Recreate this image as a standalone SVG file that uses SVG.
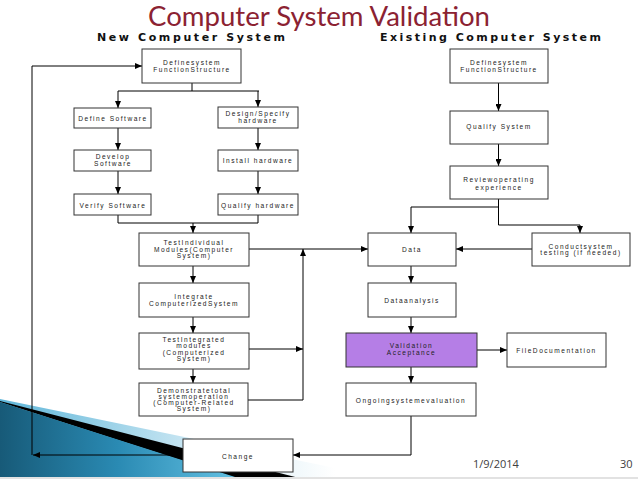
<svg xmlns="http://www.w3.org/2000/svg" width="638" height="479" viewBox="0 0 638 479">
<style>
.box{fill:#fff;stroke:#333;stroke-width:1}
.t{font-family:"Liberation Sans",Arial,sans-serif;font-size:6.6px;fill:#222;text-anchor:middle;letter-spacing:1.5px}
.ln{fill:none;stroke:#000;stroke-width:1}
.sub{font-family:"DejaVu Sans","Liberation Sans",sans-serif;font-size:11px;font-weight:bold;fill:#111}
.foot{font-family:"Open Sans","Liberation Sans",sans-serif;font-size:11px;fill:#404040}
</style>
<defs>
<marker id="ah" markerWidth="7" markerHeight="6" refX="7" refY="3" orient="auto" markerUnits="userSpaceOnUse"><path d="M0,0 L7,3 L0,6 z" fill="#000"/></marker>
<linearGradient id="dark" x1="0" y1="0" x2="1" y2="0"><stop offset="0" stop-color="#175a78"/><stop offset="0.5" stop-color="#2a8ab3"/><stop offset="1" stop-color="#62c0e2"/></linearGradient>
<linearGradient id="light" x1="0" y1="0" x2="1" y2="0"><stop offset="0" stop-color="#5fb6d9"/><stop offset="0.6" stop-color="#cfe9f4"/><stop offset="1" stop-color="#ffffff"/></linearGradient>
</defs>
<rect width="638" height="479" fill="#fff"/>
<g id="decor">
<polygon points="0,399 335,468 335,477 0,477" fill="url(#light)"/>
<polygon points="0,401 303,479 239,479 0,402" fill="#000"/>
<polygon points="0,402 235,477 0,477" fill="url(#dark)"/>
<rect x="0" y="477" width="638" height="2" fill="#e2e2e2"/>
</g>
<text x="319" y="26" font-family="Lato,'Open Sans',sans-serif" font-size="27" fill="#8b2232" text-anchor="middle" textLength="342" lengthAdjust="spacingAndGlyphs">Computer System Validation</text>
<text class="sub" x="97" y="41" textLength="188" lengthAdjust="spacing">New Computer System</text>
<text class="sub" x="380" y="41" textLength="221" lengthAdjust="spacing">Existing Computer System</text>
<g id="connectors">
<path class="ln" d="M192,83 V91 M118,91 H259"/>
<path class="ln" d="M118,91 V108" marker-end="url(#ah)"/>
<path class="ln" d="M258,91 V107" marker-end="url(#ah)"/>
<path class="ln" d="M118,128 V150" marker-end="url(#ah)"/>
<path class="ln" d="M258,128 V150" marker-end="url(#ah)"/>
<path class="ln" d="M118,171 V194" marker-end="url(#ah)"/>
<path class="ln" d="M258,171 V194" marker-end="url(#ah)"/>
<path class="ln" d="M118,215 V223 H258 V215"/>
<path class="ln" d="M193,223 V233" marker-end="url(#ah)"/>
<path class="ln" d="M193,266 V283" marker-end="url(#ah)"/>
<path class="ln" d="M193,317 V333" marker-end="url(#ah)"/>
<path class="ln" d="M193,369 V383" marker-end="url(#ah)"/>
<path class="ln" d="M183,455 H33" marker-end="url(#ah)"/>
<path class="ln" d="M32,455 V66 H142" marker-end="url(#ah)"/>
<path class="ln" d="M249,249 H368" marker-end="url(#ah)"/>
<path class="ln" d="M249,349 H303" marker-end="url(#ah)"/>
<path class="ln" d="M248,400 H303 V249" marker-end="url(#ah)"/>
<path class="ln" d="M498.5,83 V111" marker-end="url(#ah)"/>
<path class="ln" d="M498.5,144 V166" marker-end="url(#ah)"/>
<path class="ln" d="M498.5,199 V207 H411 V233" marker-end="url(#ah)"/>
<path class="ln" d="M498.5,207 V225 H580 V233" marker-end="url(#ah)"/>
<path class="ln" d="M532,249 H456" marker-end="url(#ah)"/>
<path class="ln" d="M411,266 V283" marker-end="url(#ah)"/>
<path class="ln" d="M411,317 V333" marker-end="url(#ah)"/>
<path class="ln" d="M411,367 V383" marker-end="url(#ah)"/>
<path class="ln" d="M477,350 H507" marker-end="url(#ah)"/>
<path class="ln" d="M411,416 V455 H293" marker-end="url(#ah)"/>
</g>
<g id="n-define-new"><rect class="box" x="142" y="49" width="99" height="34"/><text class="t" x="192" y="64.5">Definesystem</text><text class="t" x="192" y="72">FunctionStructure</text></g>
<g id="n-define-sw"><rect class="box" x="74" y="108" width="77" height="20"/><text class="t" x="113" y="120.5">Define Software</text></g>
<g id="n-design-hw"><rect class="box" x="218" y="107" width="80" height="21"/><text class="t" x="258" y="116">Design/Specify</text><text class="t" x="258" y="123">hardware</text></g>
<g id="n-develop-sw"><rect class="box" x="74" y="150" width="77" height="21"/><text class="t" x="113" y="159">Develop</text><text class="t" x="113" y="166">Software</text></g>
<g id="n-install-hw"><rect class="box" x="218" y="150" width="80" height="21"/><text class="t" x="258" y="163">Install hardware</text></g>
<g id="n-verify-sw"><rect class="box" x="74" y="194" width="77" height="21"/><text class="t" x="113" y="207.5">Verify Software</text></g>
<g id="n-qualify-hw"><rect class="box" x="218" y="194" width="80" height="21"/><text class="t" x="258" y="207.5">Qualify hardware</text></g>
<g id="n-test-ind"><rect class="box" x="139" y="233" width="110" height="33"/><text class="t" x="194" y="245">TestIndividual</text><text class="t" x="194" y="251.5">Modules(Computer</text><text class="t" x="194" y="258">System)</text></g>
<g id="n-integrate"><rect class="box" x="139" y="283" width="110" height="34"/><text class="t" x="194" y="299">Integrate</text><text class="t" x="194" y="306">ComputerizedSystem</text></g>
<g id="n-test-int"><rect class="box" x="139" y="333" width="110" height="36"/><text class="t" x="194" y="341.5">TestIntegrated</text><text class="t" x="194" y="348">modules</text><text class="t" x="194" y="354.5">(Computerized</text><text class="t" x="194" y="361">System)</text></g>
<g id="n-demonstrate"><rect class="box" x="139" y="383" width="109" height="33"/><text class="t" x="194" y="392.5">Demonstratetotal</text><text class="t" x="194" y="398.5">systemoperation</text><text class="t" x="194" y="404.5">(Computer-Related</text><text class="t" x="194" y="410.5">System)</text></g>
<g id="n-change"><rect class="box" x="183" y="439" width="110" height="33"/><text class="t" x="238" y="458.5">Change</text></g>
<g id="n-define-ex"><rect class="box" x="450" y="49" width="98" height="34"/><text class="t" x="499" y="64.5">Definesystem</text><text class="t" x="499" y="72">FunctionStructure</text></g>
<g id="n-qualify-sys"><rect class="box" x="450" y="111" width="98" height="33"/><text class="t" x="499" y="129">Qualify System</text></g>
<g id="n-review"><rect class="box" x="450" y="166" width="98" height="33"/><text class="t" x="499" y="182">Reviewoperating</text><text class="t" x="499" y="189.5">experience</text></g>
<g id="n-data"><rect class="box" x="368" y="233" width="88" height="33"/><text class="t" x="412" y="251.8">Data</text></g>
<g id="n-conduct"><rect class="box" x="532" y="233" width="98" height="33"/><text class="t" x="581" y="248.5">Conductsystem</text><text class="t" x="581" y="255">testing (if needed)</text></g>
<g id="n-analysis"><rect class="box" x="368" y="283" width="88" height="34"/><text class="t" x="412" y="302.5">Dataanalysis</text></g>
<g id="n-validation"><rect class="box" x="346" y="333" width="131" height="34" style="fill:#b57ee6"/><text class="t" x="411.5" y="348">Validation</text><text class="t" x="411.5" y="354.5">Acceptance</text></g>
<g id="n-filedoc"><rect class="box" x="507" y="333" width="99" height="34"/><text class="t" x="556.5" y="352.5">FileDocumentation</text></g>
<g id="n-ongoing"><rect class="box" x="346" y="383" width="130" height="33"/><text class="t" x="411" y="402.5">Ongoingsystemevaluation</text></g>
<text class="foot" x="473" y="468">1/9/2014</text>
<text class="foot" x="620" y="468">30</text>
</svg>
